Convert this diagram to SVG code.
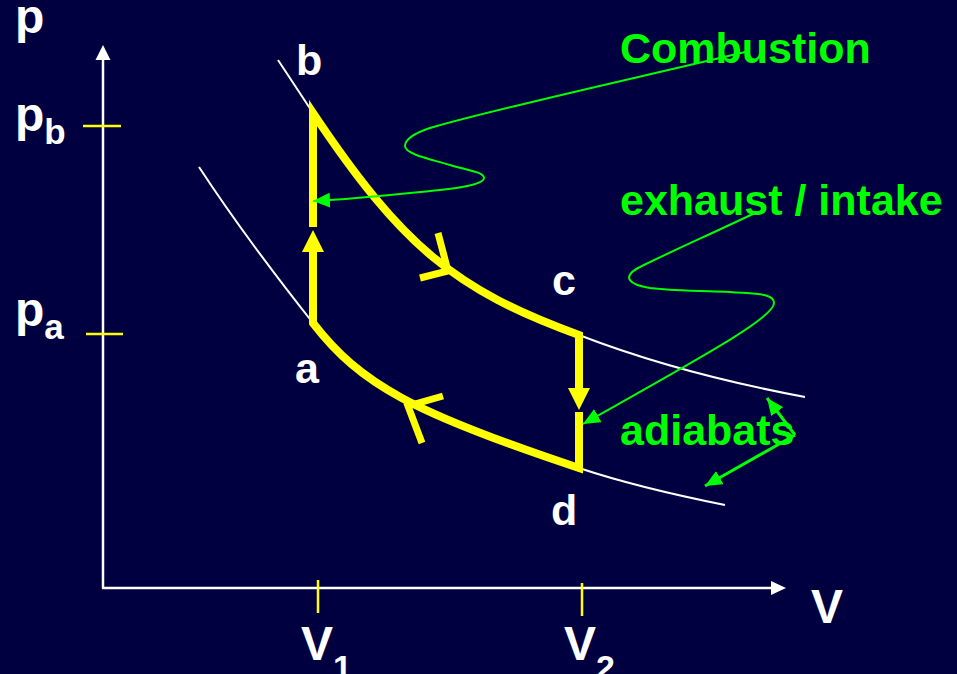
<svg xmlns="http://www.w3.org/2000/svg" width="957" height="674" viewBox="0 0 957 674">
<style>
.lbl{font-family:"Liberation Sans",Arial,sans-serif;font-weight:bold}
.ax{font-size:48px;fill:#FFFFFF}
.pt{font-size:43px;fill:#FFFFFF}
.gt{font-size:43px;fill:#00FF00}
.axis{stroke:#FFFFFF;stroke-width:2.5;fill:none}
.tick{stroke:#FFFF00;stroke-width:2.5;fill:none}
.adia{stroke:#FFFFFF;stroke-width:2;fill:none}
.cyc{stroke:#FFFF00;stroke-width:8;fill:none;stroke-linejoin:miter;stroke-linecap:butt}
.chev{stroke:#FFFF00;stroke-width:7;fill:none;stroke-linejoin:miter;stroke-linecap:butt}
.gl{stroke:#00FF00;stroke-width:2;fill:none}
.gl3{stroke:#00FF00;stroke-width:3;fill:none}
</style>
<defs>
<marker id="ga" viewBox="0 0 17 15" refX="17" refY="7.5" markerWidth="17" markerHeight="15" orient="auto" markerUnits="userSpaceOnUse"><path d="M0,0 L17,7.5 L0,15 z" fill="#00FF00"/></marker>
</defs>
<rect x="0" y="0" width="957" height="674" fill="#000040"/>

<g id="axes">
<path class="axis" d="M103,588 V58"/>
<polygon points="103,45 95.5,60 110.5,60" fill="#FFFFFF"/>
<path class="axis" d="M102,588 H773"/>
<polygon points="786,588 771,581 771,595" fill="#FFFFFF"/>
<path class="tick" d="M83,126 H121 M86,334 H123 M318,580 V613 M582,583 V616"/>
</g>

<g id="axis-labels" class="lbl ax">
<text x="15" y="33">p</text>
<text x="15" y="131">p<tspan font-size="35" dy="13">b</tspan></text>
<text x="15" y="326">p<tspan font-size="35" dy="13">a</tspan></text>
<text x="811" y="623">V</text>
<text x="301" y="660">V<tspan font-size="34" dy="19">1</tspan></text>
<text x="564" y="660">V<tspan font-size="34" dy="19">2</tspan></text>
</g>

<g id="adiabats">
<path class="adia" d="M278,60 L313,113 C402,246 455,290 579,335 C654,364 730,383 805,397"/>
<path class="adia" d="M199,167 C235,222 275,275 313,323 C360,384 413,413 579,468 C630,485 680,496 725,505"/>
</g>

<g id="cycle">
<path class="cyc" d="M313,227 L313,113 C402,246 455,290 579,335 L579,388"/>
<polygon points="579,410 568,388 590,388" fill="#FFFF00"/>
<path class="cyc" d="M579,412 L579,468 C413,413 360,384 313,323 L313,252"/>
<polygon points="313,230 302,252 324,252" fill="#FFFF00"/>
<path class="chev" d="M438,233 L448,271 L420,278"/>
<path class="chev" d="M443,396 L408,406 L422,443"/>
</g>

<g id="point-labels" class="lbl pt">
<text id="label-a" x="295" y="383">a</text>
<text id="label-b" x="296" y="75">b</text>
<text id="label-c" x="552" y="295">c</text>
<text id="label-d" x="551" y="525">d</text>
</g>

<g id="annotations">
<g id="combustion">
<text class="lbl gt" x="620" y="63">Combustion</text>
<path class="gl" marker-end="url(#ga)" d="M745,52 C645,76 490,110 430,128 C415,133 405,139 405,146 C405,154 430,159 450,165 C470,171 484,172 484,178 C484,184 460,188 440,190 C400,194 353,199 313,201"/>
</g>
<g id="exhaust">
<text class="lbl gt" x="620" y="215">exhaust / intake</text>
<path class="gl" marker-end="url(#ga)" d="M755,213 C715,232 655,259 640,267 C620,277 630,285 650,288 C675,291 705,291 730,292 C755,294 774,293 774,303 C774,318 700,358 583,424"/>
</g>
<g id="adiabats-label">
<text class="lbl gt" x="620" y="445">adiabats</text>
<path class="gl3" marker-end="url(#ga)" d="M795,435 L767,398"/>
<path class="gl3" marker-end="url(#ga)" d="M795,435 L705,486"/>
</g>
</g>
</svg>
